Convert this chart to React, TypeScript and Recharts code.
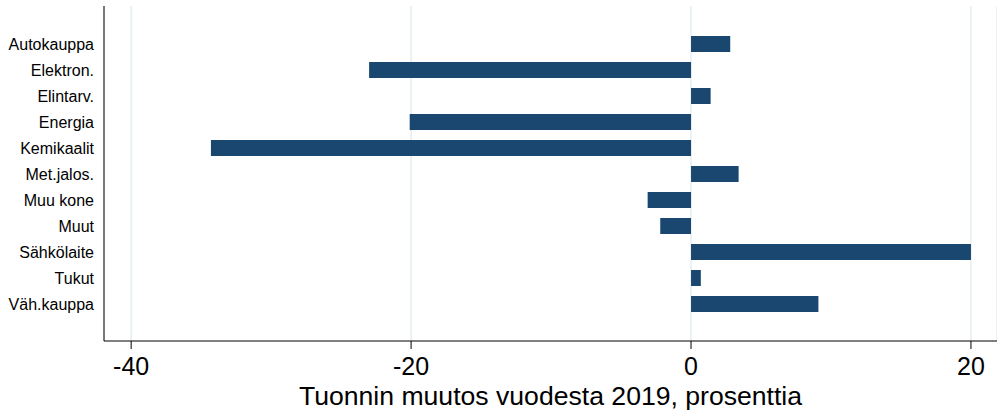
import { Bar, BarChart, CartesianGrid, Label, XAxis, YAxis } from "recharts";

// Import change by sector, percent vs 2019
const sectors = [
  "Autokauppa",
  "Elektron.",
  "Elintarv.",
  "Energia",
  "Kemikaalit",
  "Met.jalos.",
  "Muu kone",
  "Muut",
  "Sähkölaite",
  "Tukut",
  "Väh.kauppa",
];
const changes = [2.8, -23.0, 1.4, -20.1, -34.3, 3.4, -3.1, -2.2, 20.0, 0.7, 9.1];
const xTicks = [-40, -20, 0, 20];

const data = sectors.map((name, i) => ({ name, change: changes[i] }));

const font = "Arial, 'Liberation Sans', sans-serif";

export default function App() {
  return (
    <div style={{ position: "absolute", left: 0, top: 0, fontFamily: font }}>
      <BarChart
        width={997}
        height={410}
        data={data}
        layout="vertical"
        margin={{ top: 6, right: 0, left: 0, bottom: 0 }}
      >
        <CartesianGrid horizontal={false} stroke="#e4eef2" strokeWidth={1.5} />
        <XAxis
          type="number"
          domain={[-41.94, 21.86]}
          ticks={xTicks}
          height={69}
          tickSize={8}
          tickMargin={8}
          stroke="#000"
          tick={{ fill: "#000", fontSize: 25, fontFamily: font }}
          axisLine={{ stroke: "#000" }}
          tickLine={{ stroke: "#000" }}
        >
          <Label
            value="Tuonnin muutos vuodesta 2019, prosenttia"
            position="insideBottom"
            offset={5}
            fill="#000"
            fontSize={26.6}
            fontFamily={font}
          />
        </XAxis>
        <YAxis
          type="category"
          dataKey="name"
          width={104}
          tickLine={false}
          tickMargin={4}
          padding={{ top: 25, bottom: 24 }}
          axisLine={{ stroke: "#000" }}
          tick={{ fill: "#000", fontSize: 16, fontFamily: font }}
          interval={0}
        />
        <Bar dataKey="change" fill="#1a476f" barSize={16} isAnimationActive={false} />
      </BarChart>
    </div>
  );
}
